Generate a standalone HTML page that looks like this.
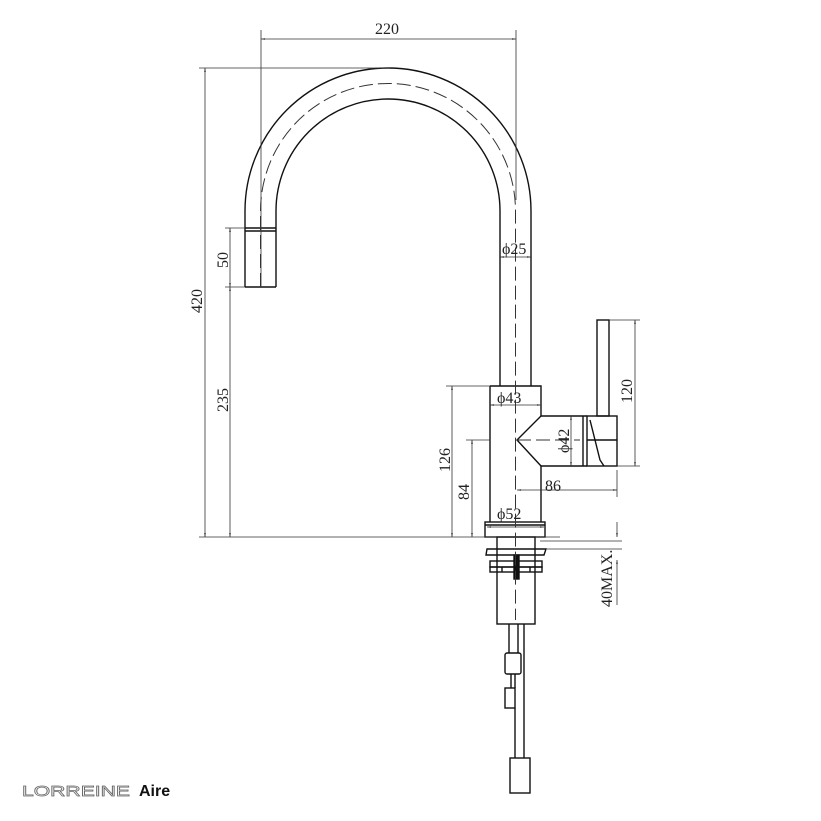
<!DOCTYPE html>
<html><head><meta charset="utf-8"><style>
html,body{margin:0;padding:0;background:#fff;}
svg{display:block}
text{font-family:"Liberation Serif",serif;font-size:16px;fill:#222}
</style></head><body>
<svg width="821" height="821" viewBox="0 0 821 821" xmlns="http://www.w3.org/2000/svg">
<defs>
<marker id="a" viewBox="0 0 10 10" refX="10" refY="5" markerWidth="8" markerHeight="5" orient="auto-start-reverse"><path d="M0,3 L10,5 L0,7z" fill="#222"/></marker>
</defs>
<g fill="none" stroke="#111" stroke-width="1.4">
<!-- spout -->
<path d="M245,287 V211 A143,143 0 0 1 531,211 V386"/>
<path d="M276,287 V211 A112,112 0 0 1 500,211 V386"/>
<path d="M245,228 H276 M245,231 H276 M245,287 H276"/>
<!-- body -->
<path d="M490,386 H541 V416 M541,466 V522 M490,386 V522"/>
<path d="M541,416 L517,440 L541,466"/>
<path d="M541,416 H587 M541,466 H587 M583,416 V466"/>
<rect x="587" y="416" width="30" height="50"/>
<path d="M590,420 L600,460 L604,466 M587,440 H617"/>
<rect x="597" y="320" width="12" height="96"/>
<rect x="485" y="522" width="60" height="15"/>
<path d="M485,525 H545"/>
<!-- under counter -->
<rect x="497" y="537" width="38" height="87"/>
<path d="M487,549 H546 L544,555 H486z"/>
<rect x="490" y="561" width="52" height="6"/>
<rect x="490" y="567" width="52" height="5"/>
<path d="M502,567 V572 M530,567 V572"/>
<rect x="514" y="555" width="5" height="24" fill="#111"/>
<path d="M509,624 V653 M518,624 V653 M524,624 V758 M515,674 V688 M511,674 V688 M515,708 V758"/>
<rect x="505" y="653" width="16" height="21" rx="2"/>
<rect x="505" y="688" width="10" height="20"/>
<rect x="510" y="758" width="20" height="35"/>
</g>
<!-- centerlines -->
<g fill="none" stroke="#333" stroke-width="1" stroke-dasharray="14,5">
<path d="M260.5,287 V211 A127.5,127.5 0 0 1 515.5,211 V620"/>
<path d="M517,440 H580"/>
</g>
<!-- dims -->
<g fill="none" stroke="#333" stroke-width="0.8">
<path d="M261,30 V287 M516,30 V200"/>
<path d="M199,68 H390 M199,537 H560 M225,228 H245 M225,287 H245 M446,386 H490 M466,440 H490 M609,320 H640 M617,466 H640 M540,541 H622 M547,549 H622 M617,470 V497"/>
<path d="M261,39 H516" marker-start="url(#a)" marker-end="url(#a)"/>
<path d="M205,68 V537" marker-start="url(#a)" marker-end="url(#a)"/>
<path d="M230,228 V287" marker-start="url(#a)" marker-end="url(#a)"/>
<path d="M230,287 V537" marker-start="url(#a)" marker-end="url(#a)"/>
<path d="M452,386 V537" marker-start="url(#a)" marker-end="url(#a)"/>
<path d="M472,440 V537" marker-start="url(#a)" marker-end="url(#a)"/>
<path d="M635,320 V466" marker-start="url(#a)" marker-end="url(#a)"/>
<path d="M517,490 H617" marker-start="url(#a)" marker-end="url(#a)"/>
<path d="M500,257 H531" marker-start="url(#a)" marker-end="url(#a)"/>
<path d="M490,405 H541" marker-start="url(#a)" marker-end="url(#a)"/>
<path d="M487,527 H544" marker-start="url(#a)" marker-end="url(#a)"/>
<path d="M571,416 V466" marker-start="url(#a)" marker-end="url(#a)"/>
<path d="M617,522 V537" marker-end="url(#a)"/>
<path d="M617,560 V605" marker-start="url(#a)"/>
</g>
<text x="375" y="34">220</text>
<text x="502" y="254">ϕ25</text>
<text x="497" y="403">ϕ43</text>
<text x="497" y="519">ϕ52</text>
<text x="545" y="491">86</text>
<text transform="translate(202,313) rotate(-90)">420</text>
<text transform="translate(228,268) rotate(-90)">50</text>
<text transform="translate(228,412) rotate(-90)">235</text>
<text transform="translate(450,472) rotate(-90)">126</text>
<text transform="translate(469,500) rotate(-90)">84</text>
<text transform="translate(569,453) rotate(-90)">ϕ42</text>
<text transform="translate(632,403) rotate(-90)">120</text>
<text transform="translate(612,607) rotate(-90)">40MAX.</text>
<text x="22" y="796" textLength="108" lengthAdjust="spacingAndGlyphs" style="font-family:'Liberation Sans',sans-serif;font-size:15px;fill:#fff;stroke:#666;stroke-width:0.7">LORREINE</text>
<text x="139" y="796" style="font-family:'Liberation Sans',sans-serif;font-size:16px;font-weight:bold;fill:#111">Aire</text>
</svg>
</body></html>
